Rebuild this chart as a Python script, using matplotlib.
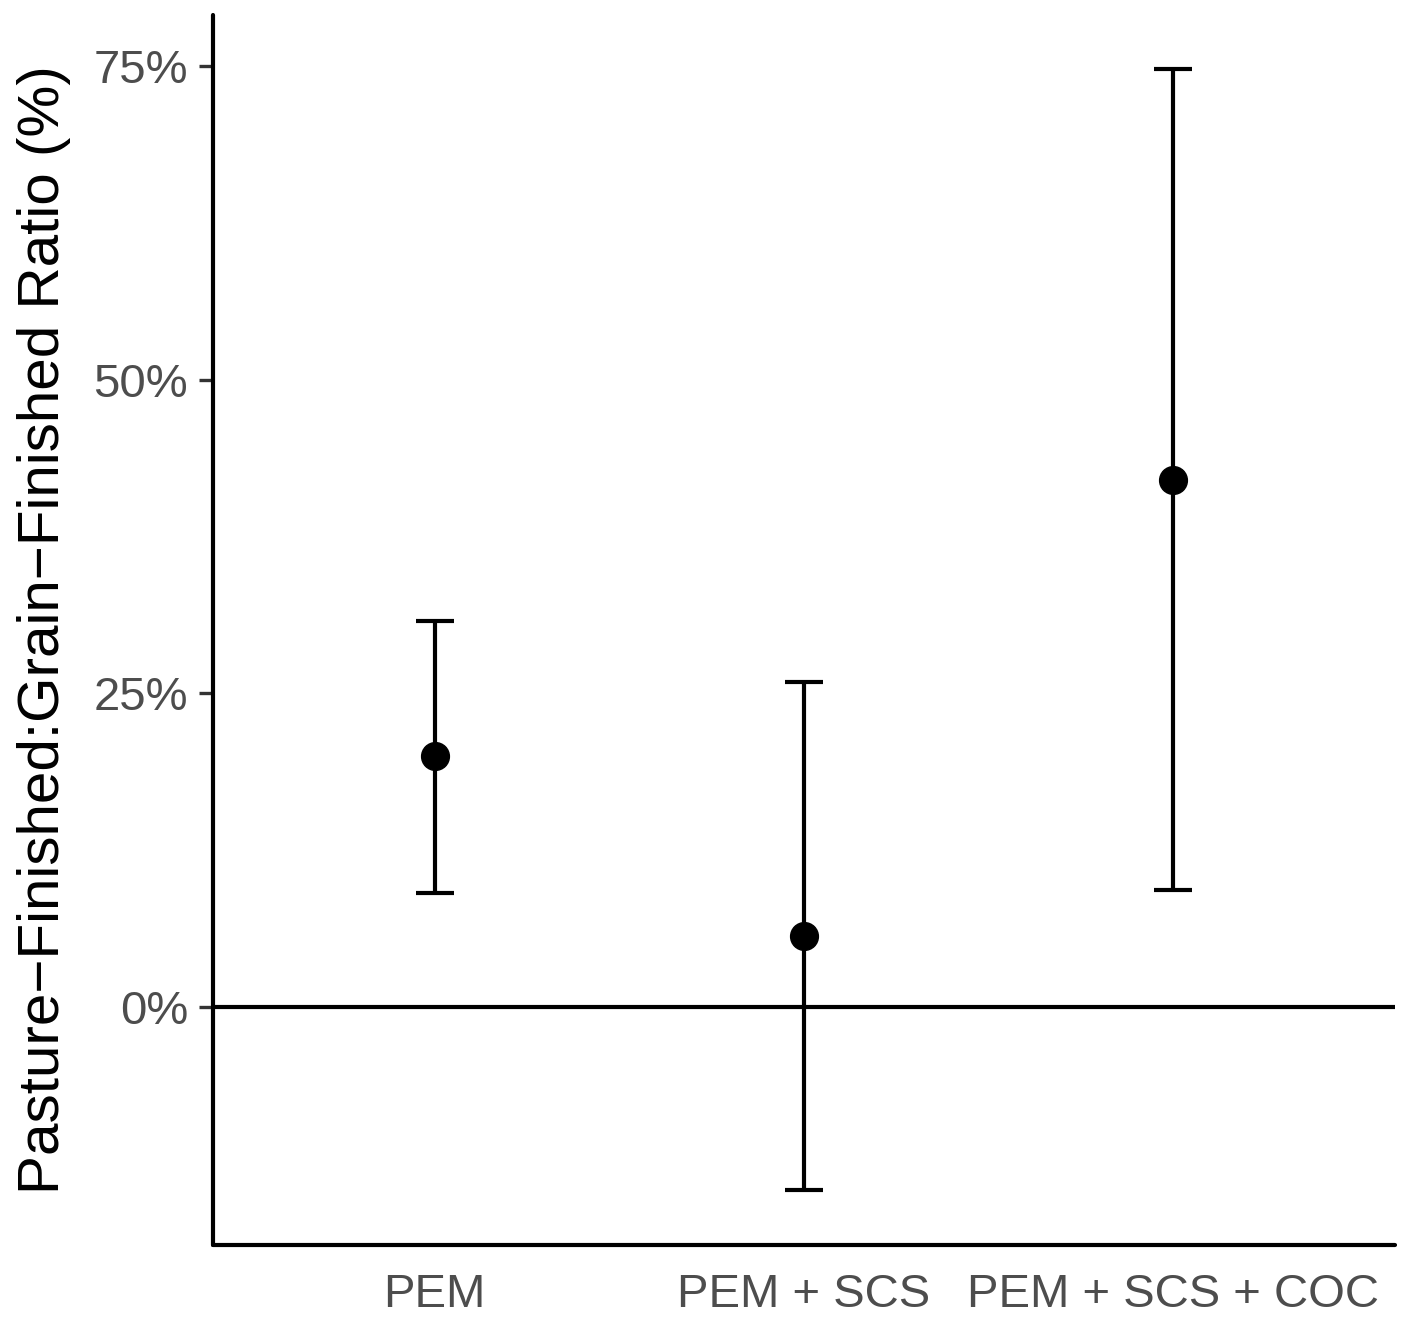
import matplotlib
matplotlib.use('Agg')
import matplotlib.pyplot as plt
import matplotlib.ticker as mticker

# ─── Data ───────────────────────────────────────────────────────
categories = ['PEM', 'PEM + SCS', 'PEM + SCS + COC']
estimate   = [20.0, 5.7, 42.0]
lower      = [9.1, -14.6, 9.3]
upper      = [30.8, 25.9, 74.8]
yticks     = [0, 25, 50, 75]

plt.rcParams['font.family'] = ['Liberation Sans', 'DejaVu Sans']

fig = plt.figure(figsize=(14.08, 13.21), dpi=100)
ax = fig.add_axes([0.1513, 0.0575, 0.8395, 0.9311])

xs = list(range(1, len(categories) + 1))
yerr = [[e - lo for e, lo in zip(estimate, lower)],
        [hi - e for e, hi in zip(estimate, upper)]]

ax.axhline(0, color='black', lw=3.0, zorder=1)
ax.errorbar(xs, estimate, yerr=yerr, fmt='o', color='black', ms=20,
            elinewidth=3.0, capsize=14, capthick=3.0, zorder=3)

ax.set_xlim(0.4, 3.6)
ax.set_ylim(-18.97, 79.06)
ax.set_xticks(xs)
ax.set_xticklabels(categories)
ax.set_yticks(yticks)
ax.yaxis.set_major_formatter(mticker.FuncFormatter(lambda v, _: f'{int(v)}%'))

ax.set_ylabel('Pasture\u2212Finished:Grain\u2212Finished Ratio (%)',
              fontsize=42, color='black', labelpad=16)

for s in ['top', 'right']:
    ax.spines[s].set_visible(False)
for s in ['left', 'bottom']:
    ax.spines[s].set_linewidth(3.0)
    ax.spines[s].set_capstyle('round')

ax.tick_params(axis='y', length=10, width=2.4, color='#333333',
               labelsize=34, labelcolor='#4d4d4d', pad=8)
ax.tick_params(axis='x', length=0, labelsize=34, labelcolor='#4d4d4d', pad=20)

fig.savefig('out.png', dpi=100, facecolor='white')
